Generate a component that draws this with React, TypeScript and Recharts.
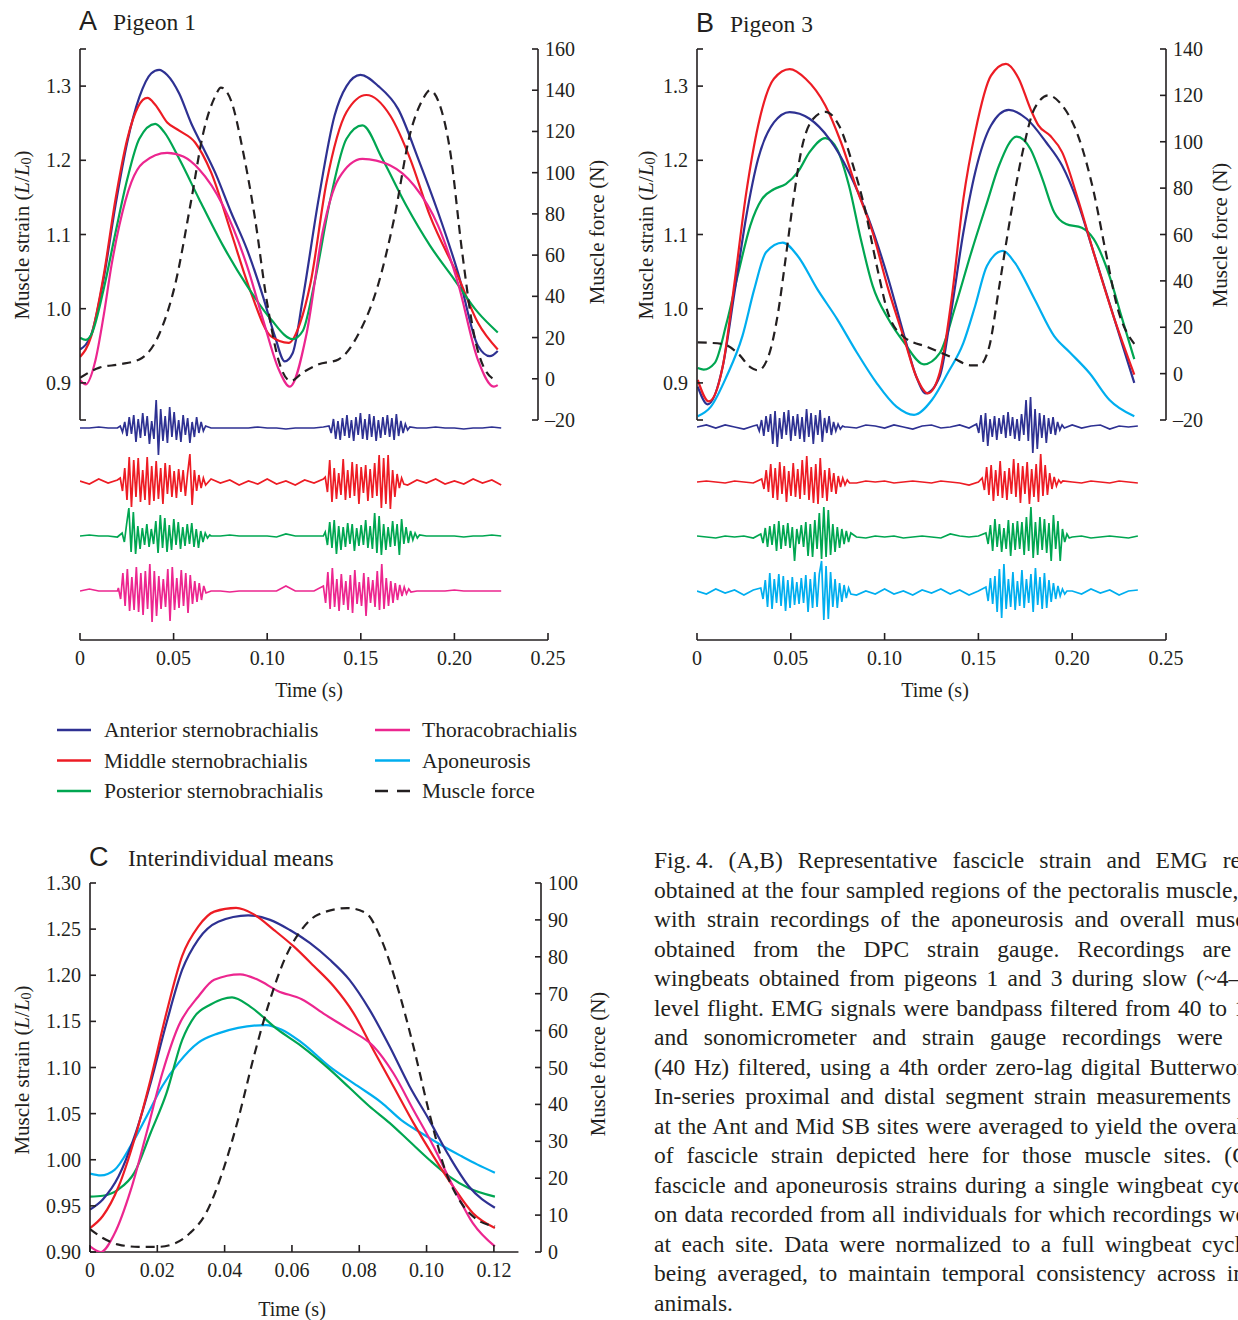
import React from "react";
import { ComposedChart, Line, XAxis, YAxis, ReferenceLine } from "recharts";

const INK = "#231f20";
const SERIF = '"Liberation Serif", "Times New Roman", Times, serif';
const SANS = '"Liberation Sans", Arial, Helvetica, sans-serif';

const C_ANT = "#2e3192";
const C_MID = "#ed1c24";
const C_POST = "#00a651";
const C_THOR = "#ec268f";
const C_APON = "#00aeef";

type Pair = [number, number];
type Pt = { t: number; v: number };
const pts = (a: Pair[]): Pt[] => a.map(([t, v]) => ({ t, v }));

// ---- ticks ----
const timeTicksAB = [0, 0.05, 0.1, 0.15, 0.2, 0.25];
const timeTicksC = [0, 0.02, 0.04, 0.06, 0.08, 0.1, 0.12];
const strainTicksAB = [0.85, 0.9, 1.0, 1.1, 1.2, 1.3, 1.35];
const strainTicksC = [0.9, 0.95, 1.0, 1.05, 1.1, 1.15, 1.2, 1.25, 1.3];
const forceTicksA = [-20, 0, 20, 40, 60, 80, 100, 120, 140, 160];
const forceTicksB = [-20, 0, 20, 40, 60, 80, 100, 120, 140];
const forceTicksC = [0, 10, 20, 30, 40, 50, 60, 70, 80, 90, 100];

// ---- A: pigeon 1, strain (L/L0) and force (N) vs time (s) ----
const antA: Pair[] = [[0,0.945],[0.006,0.965],[0.0126,1.04],[0.019,1.14],[0.0253,1.225],[0.0317,1.285],[0.038,1.317],[0.0423,1.322],[0.0466,1.315],[0.053,1.29],[0.0594,1.25],[0.0636,1.228],[0.0721,1.184],[0.0807,1.13],[0.0892,1.08],[0.0977,1.017],[0.1041,0.963],[0.1094,0.929],[0.1136,0.94],[0.119,1.013],[0.1275,1.148],[0.136,1.26],[0.1424,1.3],[0.1498,1.315],[0.1594,1.3],[0.17,1.269],[0.1807,1.202],[0.1913,1.13],[0.2019,1.049],[0.2126,0.95],[0.219,0.936],[0.2232,0.943]];
const midA: Pair[] = [[0,0.935],[0.006,0.963],[0.0126,1.044],[0.019,1.148],[0.0253,1.229],[0.031,1.272],[0.036,1.284],[0.0402,1.275],[0.0466,1.251],[0.053,1.24],[0.0615,1.224],[0.07,1.184],[0.0807,1.103],[0.0913,1.022],[0.1019,0.963],[0.1115,0.954],[0.1175,0.98],[0.1232,1.035],[0.1317,1.17],[0.1424,1.265],[0.153,1.288],[0.1658,1.26],[0.1764,1.202],[0.187,1.125],[0.2019,1.044],[0.2126,0.981],[0.2232,0.945]];
const postA: Pair[] = [[0,0.961],[0.003,0.958],[0.006,0.965],[0.0126,1.026],[0.019,1.103],[0.0253,1.175],[0.0317,1.229],[0.0402,1.249],[0.045,1.238],[0.053,1.202],[0.0636,1.148],[0.0764,1.085],[0.0892,1.031],[0.1019,0.986],[0.1136,0.959],[0.119,0.97],[0.1253,1.035],[0.1338,1.148],[0.1424,1.229],[0.1509,1.247],[0.1615,1.202],[0.1743,1.139],[0.187,1.085],[0.1998,1.04],[0.2126,0.995],[0.2232,0.968]];
const thorA: Pair[] = [[0,0.904],[0.003,0.898],[0.0083,0.931],[0.0126,0.99],[0.0168,1.058],[0.021,1.112],[0.0275,1.171],[0.0338,1.197],[0.0466,1.21],[0.0552,1.205],[0.0636,1.188],[0.0764,1.139],[0.0892,1.058],[0.0977,0.986],[0.1062,0.918],[0.1121,0.895],[0.1211,0.967],[0.1296,1.103],[0.1381,1.175],[0.1509,1.202],[0.1658,1.193],[0.1785,1.166],[0.1913,1.112],[0.2019,1.035],[0.2126,0.931],[0.2211,0.895],[0.2232,0.897]];
const forceA: Pair[] = [[0,0.5],[0.0104,5.4],[0.0211,7],[0.0317,9.4],[0.0423,21.6],[0.0509,46],[0.0594,86.5],[0.0658,119],[0.0721,136.8],[0.0753,141.3],[0.0807,135],[0.087,110.8],[0.0934,78.4],[0.0998,37.8],[0.1062,8.6],[0.1126,-1.1],[0.119,3],[0.1275,7],[0.1381,9.4],[0.1487,21.6],[0.1594,46],[0.1679,78],[0.1764,119],[0.1828,135],[0.187,140],[0.1913,135],[0.1977,110.8],[0.2041,62],[0.2105,21.6],[0.2168,3.8],[0.2232,-1.1]];

// ---- B: pigeon 3 ----
const antB: Pair[] = [[0.0004,0.895],[0.0057,0.871],[0.0137,0.922],[0.02,1.022],[0.0263,1.125],[0.0326,1.202],[0.041,1.251],[0.0494,1.265],[0.06,1.256],[0.0705,1.229],[0.081,1.184],[0.0915,1.121],[0.102,1.04],[0.1105,0.963],[0.1168,0.909],[0.122,0.886],[0.1294,0.909],[0.1357,0.999],[0.142,1.103],[0.1483,1.184],[0.1567,1.247],[0.1662,1.268],[0.1757,1.256],[0.1862,1.224],[0.1946,1.193],[0.203,1.143],[0.2114,1.076],[0.222,0.99],[0.2331,0.9]];
const midB: Pair[] = [[0.0004,0.904],[0.0063,0.875],[0.0137,0.922],[0.02,1.035],[0.0263,1.157],[0.0326,1.247],[0.041,1.31],[0.0494,1.323],[0.0579,1.31],[0.0684,1.274],[0.0768,1.224],[0.0852,1.161],[0.0936,1.103],[0.102,1.026],[0.1105,0.959],[0.1168,0.909],[0.1231,0.886],[0.1294,0.914],[0.1357,1.013],[0.142,1.148],[0.1483,1.238],[0.1567,1.314],[0.1647,1.33],[0.1715,1.31],[0.1778,1.269],[0.182,1.247],[0.1883,1.233],[0.1946,1.211],[0.203,1.148],[0.2114,1.076],[0.222,0.99],[0.2331,0.911]];
const postB: Pair[] = [[0.0004,0.92],[0.0036,0.918],[0.0095,0.927],[0.0158,0.981],[0.0221,1.049],[0.0284,1.112],[0.0347,1.148],[0.041,1.161],[0.0473,1.168],[0.0537,1.184],[0.06,1.211],[0.0684,1.23],[0.0747,1.215],[0.081,1.166],[0.0873,1.094],[0.0936,1.031],[0.102,0.986],[0.1105,0.954],[0.121,0.925],[0.1294,0.94],[0.1378,1.004],[0.1462,1.076],[0.1546,1.143],[0.161,1.193],[0.1704,1.232],[0.1778,1.215],[0.1841,1.175],[0.1904,1.13],[0.1967,1.114],[0.2051,1.109],[0.2114,1.094],[0.2199,1.044],[0.2262,0.99],[0.2331,0.932]];
const aponB: Pair[] = [[0.0004,0.855],[0.0074,0.868],[0.0158,0.909],[0.0242,0.963],[0.0305,1.026],[0.0368,1.076],[0.0457,1.089],[0.0537,1.071],[0.0642,1.026],[0.0747,0.986],[0.0852,0.941],[0.0957,0.9],[0.1063,0.868],[0.1157,0.857],[0.1252,0.877],[0.1336,0.913],[0.142,0.954],[0.1483,1.004],[0.1546,1.058],[0.1631,1.078],[0.1694,1.062],[0.1799,1.013],[0.1904,0.963],[0.1988,0.941],[0.2093,0.913],[0.2199,0.877],[0.2331,0.855]];
const forceB: Pair[] = [[0.0004,13.5],[0.0137,12.8],[0.0221,8.5],[0.0284,2.8],[0.0326,1.4],[0.0379,7.1],[0.0431,25.7],[0.0473,50],[0.0515,75.7],[0.0558,97],[0.0621,110],[0.0684,112.9],[0.0757,107],[0.0831,90],[0.0894,71.4],[0.0957,47],[0.102,25.7],[0.1105,15.7],[0.1231,11.4],[0.1357,7.1],[0.1462,3.6],[0.1504,3.6],[0.1557,11.4],[0.161,37],[0.1673,68.6],[0.1736,95.7],[0.1799,114.3],[0.1873,120],[0.1946,115.7],[0.203,102.9],[0.2114,78.6],[0.2178,52.8],[0.2241,28.5],[0.2331,12.8]];

// ---- C: interindividual means ----
const antC: Pair[] = [[0,0.946],[0.0038,0.957],[0.0085,0.982],[0.0132,1.025],[0.018,1.083],[0.0227,1.148],[0.0274,1.206],[0.0322,1.239],[0.0381,1.258],[0.047,1.265],[0.0535,1.26],[0.0594,1.249],[0.0653,1.235],[0.0712,1.217],[0.0771,1.195],[0.083,1.163],[0.089,1.123],[0.0949,1.08],[0.1008,1.043],[0.1067,1.004],[0.1126,0.971],[0.1203,0.948]];
const midC: Pair[] = [[0,0.926],[0.0038,0.939],[0.0085,0.971],[0.0132,1.022],[0.018,1.087],[0.0227,1.159],[0.0274,1.221],[0.0322,1.253],[0.0369,1.269],[0.0434,1.273],[0.0487,1.266],[0.0547,1.249],[0.0606,1.231],[0.0665,1.21],[0.0724,1.188],[0.0783,1.159],[0.0842,1.119],[0.0901,1.08],[0.0961,1.04],[0.102,1.004],[0.1079,0.971],[0.1138,0.942],[0.1203,0.926]];
const postC: Pair[] = [[0,0.96],[0.0038,0.961],[0.0085,0.968],[0.0132,0.986],[0.018,1.029],[0.0227,1.072],[0.0274,1.13],[0.031,1.155],[0.0357,1.168],[0.0422,1.176],[0.0476,1.166],[0.0558,1.141],[0.0629,1.123],[0.0712,1.098],[0.0771,1.078],[0.083,1.058],[0.089,1.04],[0.0949,1.02],[0.1008,1.0],[0.1067,0.982],[0.1126,0.969],[0.1203,0.96]];
const thorC: Pair[] = [[0,0.906],[0.0032,0.9],[0.0073,0.92],[0.0121,0.967],[0.0168,1.029],[0.0215,1.094],[0.0263,1.145],[0.0322,1.177],[0.0369,1.195],[0.0446,1.201],[0.0499,1.195],[0.0558,1.183],[0.0629,1.174],[0.07,1.157],[0.0771,1.141],[0.0842,1.123],[0.0901,1.094],[0.0961,1.054],[0.102,1.015],[0.1079,0.971],[0.1138,0.931],[0.1203,0.906]];
const aponC: Pair[] = [[0,0.985],[0.0032,0.983],[0.0073,0.989],[0.0121,1.015],[0.0168,1.047],[0.0215,1.08],[0.0263,1.105],[0.0322,1.127],[0.0381,1.137],[0.044,1.143],[0.0523,1.146],[0.057,1.141],[0.0629,1.127],[0.0712,1.101],[0.0795,1.08],[0.0866,1.062],[0.0925,1.043],[0.0984,1.029],[0.1043,1.016],[0.1103,1.004],[0.115,0.995],[0.1203,0.986]];
const forceC: Pair[] = [[0,6.2],[0.0038,3.8],[0.0085,2],[0.0144,1.4],[0.0203,1.4],[0.0251,2.3],[0.0298,5.2],[0.0345,10.6],[0.0393,21.5],[0.044,35.9],[0.0487,53],[0.0535,68.4],[0.0582,80.1],[0.0629,87.4],[0.0677,91.4],[0.0765,93.2],[0.0819,91.9],[0.0866,84.6],[0.0913,72],[0.0961,55.7],[0.1008,37.7],[0.1055,22.3],[0.1103,13.3],[0.115,8.8],[0.1203,7]];

// ---- EMG (arbitrary units); quiet samples every 5 ms, bursts every 1.2 ms ----
const QUIET_STEP = 0.005;
const BURST_STEP = 0.0012;

const antA_quiet = [0,0,1,0,0,-1,0,0,1,0,0,0,0,0,0,0,0,0,0,1,0,0,-1,0,0,0,1,0,0,0,0,0,0,0,0,0,0,0,1,0,0,-1,0,0,1,0];
const antA_starts = [0.0215, 0.133];
const antA_b1 = [2,-4,6,-8,11,-6,13,-14,9,-10,15,-8,12,-16,7,-11,28,-27,19,-13,12,-15,21,-9,16,-12,8,-14,13,-7,10,-15,6,-9,11,-5,6,-3,2];
const antA_b2 = [2,-5,9,-11,7,-12,10,-8,13,-10,8,-13,11,-7,15,-11,9,-12,14,-9,12,-13,8,-10,11,-7,13,-9,10,-12,14,-8,7,-5,4,-2,1];

const midA_quiet = [1,-2,3,-1,2,-3,2,-1,3,-2,1,-3,2,-2,3,-1,2,-3,1,-2,3,-2,1,-3,2,-1,3,-2,2,-3,1,-2,3,-1,2,-3,2,-1,3,-2,1,-2,3,-1,2,-3];
const midA_starts = [0.0215, 0.131];
const midA_b1 = [4,-9,14,-18,25,-25,22,-15,24,-20,12,-18,25,-23,16,-19,21,-17,14,-22,19,-12,17,-15,11,-16,13,-10,12,-14,9,28,-23,12,-9,7,-6,4,-3];
const midA_b2 = [5,-10,22,-20,14,-17,9,-13,23,-18,12,-16,20,-14,18,-22,15,-11,17,-19,13,-16,19,-14,27,-26,24,-22,27,-27,12,-15,8,-6,4,-2];

const postA_quiet = [0,1,0,0,-1,0,0,0,0,0,0,0,0,0,0,0,1,0,0,0,0,-1,2,0,0,0,0,0,0,0,0,0,0,0,0,0,1,0,0,0,0,-1,0,0,1,0];
const postA_starts = [0.0225, 0.131];
const postA_b1 = [3,-6,12,28,-16,24,-18,10,-13,8,-9,12,-11,7,-8,15,-17,21,-12,18,-16,11,-14,17,-9,14,-13,9,-10,12,-8,13,-11,7,-12,5,-6,3,-2,1];
const postA_b2 = [4,-9,14,-12,16,-18,10,-14,9,-11,13,-8,12,-15,8,-10,11,-9,16,-12,10,-13,23,-17,20,-19,12,-14,9,-11,15,-10,12,-19,17,-8,9,-7,5,-4,3,-2,1];

const thorA_quiet = [0,2,0,0,0,0,0,0,0,0,0,0,0,0,0,0,-1,0,0,0,0,0,5,0,0,0,0,0,0,0,0,0,0,0,0,0,0,0,0,0,1,0,0,0,0,0];
const thorA_starts = [0.0205, 0.13];
const thorA_b1 = [3,-8,18,-15,22,-20,14,-19,24,-21,18,-24,20,-18,27,-31,20,-25,15,-18,12,-16,22,-30,24,-19,13,-17,21,-15,18,-22,16,-13,10,-11,8,-9,5,-2];
const thorA_b2 = [5,-12,19,-18,23,-16,12,-20,17,-14,10,-19,16,-22,21,-13,9,-15,18,-25,14,-12,11,-16,20,-19,27,-18,13,-15,10,-12,8,-9,6,-5,4,-3,2,-1];

const antB_quiet = [0,2,-1,2,0,-2,1,2,-1,0,2,-1,1,2,-2,1,0,-1,2,1,-1,2,0,-2,1,2,-1,0,2,-1,2,1,-2,1,0,-1,2,1,-1,0,2,-1,1,2,-2,1,0,1];
const antB_starts = [0.032, 0.149];
const antB_b1 = [2,-4,7,-9,11,-5,13,-17,16,-20,9,-12,15,-8,17,-14,11,-9,13,-12,10,-15,18,-10,14,-17,12,-8,17,-15,9,-6,11,-8,5,-4,3,-2,1,0];
const antB_b2 = [3,-6,12,-15,14,-19,8,-10,11,-13,9,-7,12,-11,15,-9,10,-12,8,-14,13,-8,27,-14,30,-26,18,-22,14,-11,12,-16,9,-7,10,-8,5,-3,2,-1];

const midB_quiet = [0,1,0,-1,1,0,-1,1,0,1,-1,0,1,0,-1,1,0,-1,1,0,1,-1,0,1,0,-1,1,0,-1,-3,0,1,0,-1,1,0,1,-1,0,1,0,-1,1,0,-1,1,0,-1];
const midB_starts = [0.0345, 0.152];
const midB_b1 = [3,-7,12,-10,18,-16,14,-18,20,-12,16,-20,11,-14,19,-15,13,-17,22,-13,26,-18,15,-21,18,-22,24,-16,12,-19,14,-10,9,-12,6,-5,4,-3,2,-1];
const midB_b2 = [4,-8,15,-13,17,-19,12,-14,21,-16,11,-18,14,-12,23,-15,19,-21,16,-12,20,-22,13,-15,18,-20,28,-14,17,-13,9,-7,5,-4,2,-1];

const postB_quiet = [1,0,-1,1,0,1,-1,0,1,0,-1,1,0,1,-1,0,1,0,-1,1,0,1,-1,0,1,0,-1,3,1,0,1,-1,0,1,0,-1,1,0,-1,1,0,1,-1,0,1,0,-1,1];
const postB_starts = [0.034, 0.154];
const postB_b1 = [3,-6,9,-10,11,-8,13,-14,16,-12,12,-9,14,-11,10,-24,8,-7,12,-10,15,-19,13,-20,17,-12,24,-22,30,-20,27,-18,13,-15,10,-11,8,-7,6,-5,4];
const postB_b2 = [4,-7,12,-14,18,-10,13,-15,9,-12,17,-19,14,-13,16,-12,15,-18,20,-14,30,-21,15,-18,20,-13,18,-16,14,-24,22,-12,16,-24,8,-5,3,-1];

const aponB_quiet = [1,-2,3,-1,2,-3,2,-1,3,-2,1,-3,2,-2,3,-1,2,-3,1,-2,3,-2,1,-3,2,-1,3,-2,2,-3,1,-2,3,-1,2,-3,2,-1,3,-2,1,-2,3,-1,2,-3,1,2];
const aponB_starts = [0.034, 0.154];
const aponB_b1 = [4,-7,12,-15,19,-17,13,-11,18,-14,16,-19,12,-16,15,-13,10,-12,14,-11,17,-20,13,-16,20,-15,18,31,-28,26,-27,20,-15,13,-16,9,-10,7,-6,4,-2];
const aponB_b2 = [5,-9,14,-12,16,-20,23,-26,28,-17,13,-15,20,-18,11,-14,22,-16,13,-11,18,-20,24,-13,15,-17,19,-16,12,-10,9,-7,6,-4,3,-2,1];

function emgTrace(quiet: number[], starts: number[], bursts: number[][]): Pt[] {
  const windows = bursts.map((b, i) => [starts[i], starts[i] + (b.length - 1) * BURST_STEP]);
  const out: Pt[] = [];
  quiet.forEach((v, i) => {
    const t = i * QUIET_STEP;
    if (!windows.some(([a, b]) => t >= a && t <= b)) out.push({ t, v });
  });
  bursts.forEach((b, k) => b.forEach((v, i) => out.push({ t: starts[k] + i * BURST_STEP, v })));
  return out.sort((p, q) => p.t - q.t);
}

// ---- ticks ----
const fmtStrain1 = (v: number) => (v < 0.88 || v > 1.32 ? "" : v.toFixed(1));
const fmtStrain2 = (v: number) => v.toFixed(2);
const fmtForce = (v: number) => (v < 0 ? `\u2013${-v}` : `${v}`);
const fmtTime = (v: number) => (v === 0 ? "0" : v.toFixed(2));

const TICK_FONT = 20;
const AXIS_W = 1.6;

const leftTick = (fmt: (v: number) => string) => (p: any) => {
  const label = fmt(p.payload.value);
  return (
    <g>
      <line x1={p.x} x2={p.x + 6} y1={p.y} y2={p.y} stroke={INK} strokeWidth={AXIS_W} />
      {label && (
        <text x={p.x - 9} y={p.y + 7} textAnchor="end" fontFamily={SERIF} fontSize={TICK_FONT} fill={INK}>
          {label}
        </text>
      )}
    </g>
  );
};

const rightTick = (fmt: (v: number) => string) => (p: any) => (
  <g>
    <line x1={p.x} x2={p.x - 6} y1={p.y} y2={p.y} stroke={INK} strokeWidth={AXIS_W} />
    <text x={p.x + 7} y={p.y + 7} textAnchor="start" fontFamily={SERIF} fontSize={TICK_FONT} fill={INK}>
      {fmt(p.payload.value)}
    </text>
  </g>
);

const bottomTick = (fmt: (v: number) => string) => (p: any) => (
  <g>
    <line x1={p.x} x2={p.x} y1={p.y} y2={p.y - 7} stroke={INK} strokeWidth={AXIS_W} />
    <text x={p.x} y={p.y + 25} textAnchor="middle" fontFamily={SERIF} fontSize={TICK_FONT} fill={INK}>
      {fmt(p.payload.value)}
    </text>
  </g>
);

type Trace = { name: string; data: Pt[]; color: string };
type Margin = { top: number; right: number; bottom: number; left: number };

// axes are 1px wide/high (Recharts skips zero-size axes), so margins are 1px less than the plot edges
function StrainChart(props: {
  left: number; top: number; width: number; height: number; margin: Margin;
  tMax: number;
  strainDomain: [number, number]; strainTicks: number[]; strainFmt: (v: number) => string;
  forceDomain: [number, number]; forceTicks: number[];
  traces: Trace[]; force: Pt[];
  timeTicks?: number[]; xAxisEnd?: number;
}) {
  const axis = { stroke: INK, strokeWidth: AXIS_W };
  const m = props.margin;
  const margin = { top: m.top, left: m.left - 1, right: m.right - 1, bottom: props.timeTicks ? m.bottom - 1 : m.bottom };
  return (
    <div style={{ position: "absolute", left: props.left, top: props.top }}>
      <ComposedChart width={props.width} height={props.height} margin={margin}>
        <XAxis
          type="number" dataKey="t" domain={[0, props.tMax]} allowDataOverflow
          hide={!props.timeTicks} ticks={props.timeTicks} interval={0} height={1}
          axisLine={false} tickLine={false} tickSize={0} tickMargin={0} tick={bottomTick(fmtTime)}
        />
        <YAxis
          yAxisId="s" type="number" domain={props.strainDomain} allowDataOverflow width={1}
          ticks={props.strainTicks} interval={0} axisLine={axis} tickLine={false}
          tickSize={0} tickMargin={0} tick={leftTick(props.strainFmt)}
        />
        <YAxis
          yAxisId="f" orientation="right" type="number" domain={props.forceDomain} allowDataOverflow width={1}
          ticks={props.forceTicks} interval={0} axisLine={axis} tickLine={false}
          tickSize={0} tickMargin={0} tick={rightTick(fmtForce)}
        />
        {props.xAxisEnd !== undefined && (
          <ReferenceLine
            yAxisId="s"
            segment={[{ x: 0, y: props.strainDomain[0] }, { x: props.xAxisEnd, y: props.strainDomain[0] }]}
            stroke={INK} strokeWidth={AXIS_W} ifOverflow="visible"
          />
        )}
        {props.traces.map((tr) => (
          <Line
            key={tr.name} name={tr.name} yAxisId="s" data={tr.data} dataKey="v" type="monotone"
            stroke={tr.color} strokeWidth={2.2} dot={false} activeDot={false} isAnimationActive={false}
          />
        ))}
        <Line
          name="Muscle force" yAxisId="f" data={props.force} dataKey="v" type="monotone"
          stroke={INK} strokeWidth={2.2} strokeDasharray="9 6" dot={false} activeDot={false} isAnimationActive={false}
        />
      </ComposedChart>
    </div>
  );
}

const EMG_SPAN = 245;

function EmgChart(props: { left: number; top: number; margin: Margin; width: number; lanes: { name: string; base: number; data: Pt[]; color: string }[] }) {
  const m = props.margin;
  return (
    <div style={{ position: "absolute", left: props.left, top: props.top }}>
      <ComposedChart width={props.width} height={320} margin={{ ...m, bottom: m.bottom - 1 }}>
        <XAxis
          type="number" dataKey="t" domain={[0, 0.25]} allowDataOverflow ticks={timeTicksAB} interval={0}
          height={1} tickSize={0} tickMargin={0} tickLine={false}
          axisLine={{ stroke: INK, strokeWidth: AXIS_W }} tick={bottomTick(fmtTime)}
        />
        <YAxis hide type="number" domain={[0, EMG_SPAN]} allowDataOverflow />
        {props.lanes.map((l) => (
          <Line
            key={l.name} name={l.name} data={l.data.map((p) => ({ t: p.t, v: p.v + l.base }))} dataKey="v"
            type="linear" stroke={l.color} strokeWidth={1.7} dot={false} activeDot={false} isAnimationActive={false}
          />
        ))}
      </ComposedChart>
    </div>
  );
}

const legendLeft = [
  { label: "Anterior sternobrachialis", color: C_ANT },
  { label: "Middle sternobrachialis", color: C_MID },
  { label: "Posterior sternobrachialis", color: C_POST },
];
const legendRight = [
  { label: "Thoracobrachialis", color: C_THOR },
  { label: "Aponeurosis", color: C_APON },
  { label: "Muscle force", color: INK, dashed: true },
];

const captionLines = [
  "Fig.\u20094. (A,B) Representative fascicle strain and EMG recordings",
  "obtained at the four sampled regions of the pectoralis muscle, together",
  "with strain recordings of the aponeurosis and overall muscle force",
  "obtained from the DPC strain gauge. Recordings are of two",
  "wingbeats obtained from pigeons 1 and 3 during slow (~4\u20136 m s",
  "level flight. EMG signals were bandpass filtered from 40 to 1000 Hz,",
  "and sonomicrometer and strain gauge recordings were low-pass",
  "(40 Hz) filtered, using a 4th order zero-lag digital Butterworth filter.",
  "In-series proximal and distal segment strain measurements obtained",
  "at the Ant and Mid SB sites were averaged to yield the overall pattern",
  "of fascicle strain depicted here for those muscle sites. (C) Mean",
  "fascicle and aponeurosis strains during a single wingbeat cycle based",
  "on data recorded from all individuals for which recordings were made",
  "at each site. Data were normalized to a full wingbeat cycle before",
  "being averaged, to maintain temporal consistency across individual",
  "animals.",
];

function StrainLabel({ x, y }: { x: number; y: number }) {
  return (
    <text x={x} y={y} transform={`rotate(-90 ${x} ${y})`} textAnchor="middle" dominantBaseline="central" fontFamily={SERIF} fontSize={21} fill={INK}>
      Muscle strain (<tspan fontStyle="italic">L</tspan>/<tspan fontStyle="italic">L</tspan>
      <tspan fontSize={14} dy={4}>0</tspan>
      <tspan dy={-4}>)</tspan>
    </text>
  );
}

function ForceLabel({ x, y }: { x: number; y: number }) {
  return (
    <text x={x} y={y} transform={`rotate(-90 ${x} ${y})`} textAnchor="middle" dominantBaseline="central" fontFamily={SERIF} fontSize={21} fill={INK}>
      Muscle force (N)
    </text>
  );
}

export default function App() {
  const A_RIGHT_T = 0.2447;
  const C_RIGHT_T = 0.134;
  const C_AXIS_END = 0.1273;

  const tracesA: Trace[] = [
    { name: "Anterior sternobrachialis", data: pts(antA), color: C_ANT },
    { name: "Middle sternobrachialis", data: pts(midA), color: C_MID },
    { name: "Posterior sternobrachialis", data: pts(postA), color: C_POST },
    { name: "Thoracobrachialis", data: pts(thorA), color: C_THOR },
  ];
  const tracesB: Trace[] = [
    { name: "Aponeurosis", data: pts(aponB), color: C_APON },
    { name: "Posterior sternobrachialis", data: pts(postB), color: C_POST },
    { name: "Anterior sternobrachialis", data: pts(antB), color: C_ANT },
    { name: "Middle sternobrachialis", data: pts(midB), color: C_MID },
  ];
  const tracesC: Trace[] = [
    { name: "Aponeurosis", data: pts(aponC), color: C_APON },
    { name: "Posterior sternobrachialis", data: pts(postC), color: C_POST },
    { name: "Anterior sternobrachialis", data: pts(antC), color: C_ANT },
    { name: "Middle sternobrachialis", data: pts(midC), color: C_MID },
    { name: "Thoracobrachialis", data: pts(thorC), color: C_THOR },
  ];

  const lanesA = [
    { name: "ant", base: 212, color: C_ANT, data: emgTrace(antA_quiet, antA_starts, [antA_b1, antA_b2]) },
    { name: "mid", base: 158, color: C_MID, data: emgTrace(midA_quiet, midA_starts, [midA_b1, midA_b2]) },
    { name: "post", base: 104, color: C_POST, data: emgTrace(postA_quiet, postA_starts, [postA_b1, postA_b2]) },
    { name: "thor", base: 49, color: C_THOR, data: emgTrace(thorA_quiet, thorA_starts, [thorA_b1, thorA_b2]) },
  ];
  const lanesB = [
    { name: "ant", base: 213, color: C_ANT, data: emgTrace(antB_quiet, antB_starts, [antB_b1, antB_b2]) },
    { name: "mid", base: 158, color: C_MID, data: emgTrace(midB_quiet, midB_starts, [midB_b1, midB_b2]) },
    { name: "post", base: 103, color: C_POST, data: emgTrace(postB_quiet, postB_starts, [postB_b1, postB_b2]) },
    { name: "apon", base: 48, color: C_APON, data: emgTrace(aponB_quiet, aponB_starts, [aponB_b1, aponB_b2]) },
  ];

  return (
    <div style={{ position: "absolute", left: 0, top: 0, width: 1238, height: 1320, overflow: "hidden", background: "#fff" }}>
      <StrainChart
        left={0} top={0} width={620} height={440} margin={{ top: 49, right: 82, bottom: 20, left: 80 }}
        tMax={A_RIGHT_T} strainDomain={[0.85, 1.35]} strainTicks={strainTicksAB} strainFmt={fmtStrain1}
        forceDomain={[-20, 160]} forceTicks={forceTicksA} traces={tracesA} force={pts(forceA)}
      />
      <EmgChart left={0} top={380} width={620} margin={{ top: 15, right: 72, bottom: 60, left: 80 }} lanes={lanesA} />

      <StrainChart
        left={620} top={0} width={618} height={440} margin={{ top: 49, right: 72, bottom: 20, left: 77 }}
        tMax={0.25} strainDomain={[0.85, 1.35]} strainTicks={strainTicksAB} strainFmt={fmtStrain1}
        forceDomain={[-20, 140]} forceTicks={forceTicksB} traces={tracesB} force={pts(forceB)}
      />
      <EmgChart left={620} top={380} width={618} margin={{ top: 15, right: 72, bottom: 60, left: 77 }} lanes={lanesB} />

      <StrainChart
        left={0} top={840} width={620} height={480} margin={{ top: 43, right: 79, bottom: 68, left: 90 }}
        tMax={C_RIGHT_T} strainDomain={[0.9, 1.3]} strainTicks={strainTicksC} strainFmt={fmtStrain2}
        forceDomain={[0, 100]} forceTicks={forceTicksC} traces={tracesC} force={pts(forceC)}
        timeTicks={timeTicksC} xAxisEnd={C_AXIS_END}
      />

      <svg width={1238} height={1320} style={{ position: "absolute", left: 0, top: 0, pointerEvents: "none" }}>
        <text x={79} y={30} fontFamily={SANS} fontSize={27} fill={INK}>A</text>
        <text x={113} y={30} fontFamily={SERIF} fontSize={23.5} fill={INK}>Pigeon 1</text>
        <text x={696} y={32} fontFamily={SANS} fontSize={27} fill={INK}>B</text>
        <text x={730} y={32} fontFamily={SERIF} fontSize={23.5} fill={INK}>Pigeon 3</text>
        <text x={89} y={866} fontFamily={SANS} fontSize={27} fill={INK}>C</text>
        <text x={128} y={866} fontFamily={SERIF} fontSize={23.5} fill={INK}>Interindividual means</text>

        <StrainLabel x={22} y={235} />
        <StrainLabel x={646} y={235} />
        <StrainLabel x={22} y={1070} />
        <ForceLabel x={597} y={232} />
        <ForceLabel x={1220} y={235} />
        <ForceLabel x={598} y={1064} />

        <text x={309} y={697} textAnchor="middle" fontFamily={SERIF} fontSize={20} fill={INK}>Time (s)</text>
        <text x={935} y={697} textAnchor="middle" fontFamily={SERIF} fontSize={20} fill={INK}>Time (s)</text>
        <text x={292} y={1316} textAnchor="middle" fontFamily={SERIF} fontSize={20} fill={INK}>Time (s)</text>

        {legendLeft.map((it, i) => (
          <g key={it.label}>
            <line x1={57} x2={91} y1={730 + i * 30.5} y2={730 + i * 30.5} stroke={it.color} strokeWidth={2.4} />
            <text x={104} y={737 + i * 30.5} fontFamily={SERIF} fontSize={21.5} fill={INK}>{it.label}</text>
          </g>
        ))}
        {legendRight.map((it, i) => (
          <g key={it.label}>
            <line x1={375} x2={410} y1={730 + i * 30.5} y2={730 + i * 30.5} stroke={it.color} strokeWidth={2.4} strokeDasharray={it.dashed ? "13 9" : undefined} />
            <text x={422} y={737 + i * 30.5} fontFamily={SERIF} fontSize={21.5} fill={INK}>{it.label}</text>
          </g>
        ))}
      </svg>

      <div style={{ position: "absolute", left: 654, top: 846, width: 668, fontFamily: SERIF, fontSize: 23.5, color: INK }}>
        {captionLines.map((line, i) => (
          <div
            key={i}
            style={{
              height: 29.5, lineHeight: "29.5px", whiteSpace: "nowrap", textAlign: "justify",
              textAlignLast: i === captionLines.length - 1 ? "left" : "justify",
            }}
          >
            {line}
            {i === 4 && (
              <>
                <sup style={{ fontSize: "0.68em", lineHeight: 0 }}>{"\u20131"}</sup>)
              </>
            )}
          </div>
        ))}
      </div>
    </div>
  );
}
